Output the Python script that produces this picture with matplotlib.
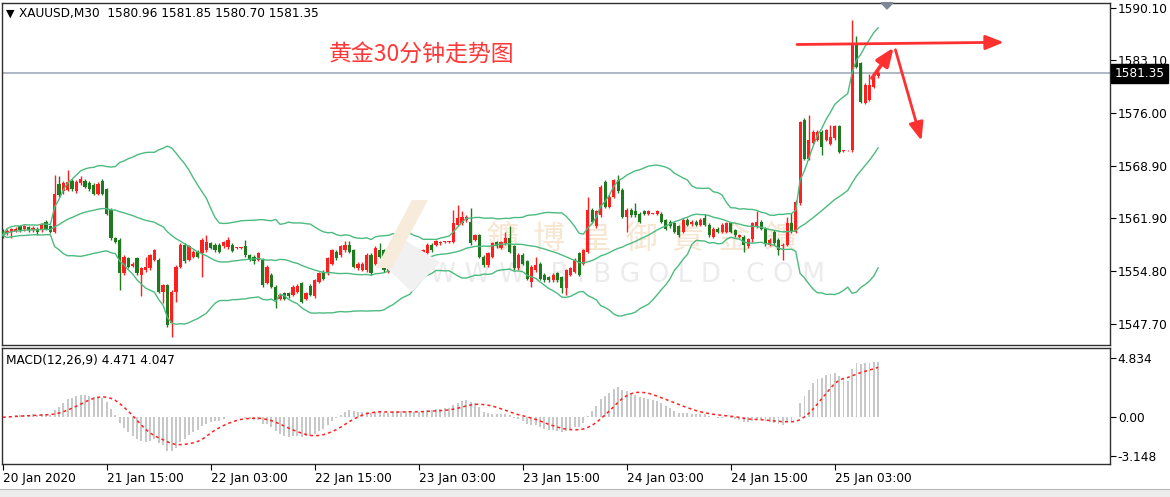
import numpy as np
import pandas as pd
import matplotlib.pyplot as plt
from matplotlib.patches import Polygon, Rectangle
import matplotlib.transforms as mtransforms

plt.rcParams['font.family'] = ['DejaVu Sans']

# XAUUSD M30 candles (open / high / low / close), oldest first
opens = [
    1560.2, 1559.9, 1560.0, 1560.2, 1560.8, 1560.4, 1560.7, 1560.3, 1560.5, 1560.3,
    1561.4, 1560.8, 1560.1, 1566.5, 1565.5, 1565.7, 1566.9, 1565.5, 1566.6, 1566.9,
    1566.6, 1566.4, 1565.2, 1566.9, 1565.8, 1563.0, 1559.2, 1559.0, 1554.5, 1556.5,
    1555.5, 1556.5, 1554.3, 1554.9, 1555.2, 1556.3, 1556.3, 1552.0, 1552.9, 1547.8,
    1552.0, 1555.4, 1558.3, 1556.3, 1556.7, 1557.4, 1557.2, 1557.6, 1558.5, 1558.3,
    1558.3, 1558.1, 1558.0, 1558.3, 1557.9, 1557.9, 1558.1, 1556.9, 1556.7, 1556.3,
    1556.3, 1553.2, 1554.3, 1552.7, 1551.1, 1551.8, 1551.8, 1551.6, 1552.0, 1553.2,
    1551.1, 1552.8, 1551.4, 1553.4, 1554.7, 1554.5, 1555.8, 1557.4, 1556.9, 1557.6,
    1558.3, 1557.6, 1555.2, 1555.0, 1554.9, 1557.0, 1555.8, 1557.6, 1557.6, 1554.7,
    1555.8, 1557.2, 1555.6, 1557.6, 1557.4, 1556.5, 1556.1, 1557.0, 1557.2, 1558.3,
    1558.3, 1558.5, 1558.7, 1558.7, 1558.7, 1561.0, 1561.2, 1561.6, 1561.4, 1559.0,
    1559.6, 1556.7, 1555.6, 1556.7, 1558.7, 1557.9, 1558.5, 1559.2, 1558.1, 1555.2,
    1557.0, 1556.1, 1553.4, 1554.9, 1555.8, 1554.3, 1554.0, 1553.6, 1554.5, 1554.0,
    1552.5, 1554.3, 1554.7, 1557.2, 1555.8, 1557.4, 1563.0, 1560.8, 1562.3, 1566.8,
    1563.4, 1564.8, 1567.0, 1565.7, 1562.1, 1563.0, 1562.8, 1562.5, 1562.8, 1562.5,
    1562.5, 1562.5, 1562.5, 1561.6, 1561.4, 1561.2, 1560.8, 1560.1, 1561.7, 1561.1,
    1561.4, 1561.0, 1561.9, 1561.0, 1559.4, 1560.5, 1560.1, 1560.1, 1561.2, 1560.3,
    1559.4, 1559.4, 1558.1, 1559.1, 1560.8, 1561.4, 1560.5, 1558.3, 1560.1, 1559.0,
    1558.1, 1558.3, 1561.2, 1560.1, 1563.9, 1575.1, 1569.9, 1572.0, 1572.4, 1573.5,
    1572.4, 1571.9, 1572.6, 1574.2, 1570.9, 1571.0, 1571.0, 1585.4, 1582.7, 1577.4,
    1577.8, 1579.5, 1580.96]
highs = [
    1560.4, 1560.4, 1560.6, 1560.7, 1561.0, 1561.0, 1560.9, 1560.9, 1560.7, 1561.2,
    1561.7, 1561.0, 1567.7, 1567.5, 1566.9, 1568.4, 1567.2, 1567.0, 1567.6, 1567.2,
    1566.9, 1566.6, 1566.8, 1567.1, 1566.0, 1563.2, 1559.4, 1559.2, 1557.0, 1556.7,
    1556.0, 1556.7, 1555.4, 1556.7, 1557.1, 1557.8, 1556.5, 1553.1, 1553.1, 1552.2,
    1555.6, 1558.5, 1558.5, 1558.3, 1557.6, 1557.6, 1559.2, 1559.6, 1558.7, 1558.5,
    1558.5, 1558.9, 1559.4, 1558.5, 1558.0, 1558.0, 1559.0, 1557.1, 1556.9, 1557.4,
    1556.5, 1555.6, 1554.5, 1552.9, 1551.8, 1552.0, 1552.0, 1552.9, 1553.0, 1553.4,
    1552.0, 1553.0, 1553.8, 1554.7, 1554.9, 1556.7, 1557.8, 1557.6, 1558.3, 1558.8,
    1558.8, 1557.8, 1556.0, 1556.0, 1557.2, 1557.2, 1558.1, 1558.5, 1557.8, 1556.9,
    1558.1, 1557.4, 1557.6, 1557.8, 1557.6, 1557.2, 1557.6, 1557.8, 1558.5, 1558.5,
    1559.0, 1558.9, 1558.8, 1558.8, 1563.0, 1563.7, 1562.8, 1562.3, 1563.2, 1559.8,
    1559.8, 1556.9, 1557.4, 1558.7, 1558.9, 1558.9, 1560.1, 1560.8, 1558.3, 1557.2,
    1557.2, 1556.3, 1555.6, 1556.7, 1556.0, 1554.5, 1554.2, 1554.5, 1554.7, 1554.2,
    1555.1, 1555.4, 1556.5, 1557.4, 1557.8, 1564.8, 1563.2, 1563.0, 1566.3, 1567.0,
    1565.0, 1567.2, 1567.7, 1565.9, 1563.2, 1563.2, 1563.9, 1562.7, 1563.0, 1563.0,
    1562.6, 1563.0, 1562.7, 1561.8, 1561.6, 1561.4, 1561.0, 1561.9, 1561.9, 1561.6,
    1561.6, 1561.9, 1562.5, 1561.2, 1560.7, 1560.7, 1561.2, 1561.4, 1561.4, 1560.5,
    1559.8, 1559.6, 1559.3, 1561.4, 1562.8, 1561.6, 1560.7, 1559.2, 1560.3, 1559.2,
    1558.5, 1562.1, 1562.6, 1564.3, 1575.0, 1575.3, 1575.7, 1573.7, 1573.7, 1573.7,
    1573.9, 1574.4, 1574.4, 1574.4, 1571.0, 1571.1, 1588.5, 1586.3, 1582.9, 1580.0,
    1581.3, 1581.1, 1581.85]
lows = [
    1559.3, 1559.7, 1559.3, 1560.0, 1560.1, 1560.2, 1560.1, 1560.1, 1559.6, 1560.1,
    1560.3, 1559.9, 1559.9, 1564.8, 1565.2, 1565.5, 1565.6, 1565.3, 1566.4, 1565.9,
    1565.6, 1565.0, 1565.0, 1565.0, 1562.3, 1559.0, 1558.5, 1552.3, 1554.3, 1555.2,
    1555.3, 1554.3, 1551.4, 1554.7, 1555.0, 1556.1, 1551.8, 1550.5, 1547.3, 1546.0,
    1550.7, 1555.2, 1555.9, 1556.1, 1556.5, 1556.5, 1554.0, 1557.4, 1557.7, 1557.4,
    1557.2, 1557.9, 1557.8, 1557.3, 1557.8, 1557.8, 1556.7, 1556.1, 1555.7, 1556.1,
    1552.7, 1553.0, 1552.5, 1549.8, 1550.9, 1550.9, 1551.2, 1551.4, 1551.8, 1550.5,
    1550.9, 1551.4, 1551.2, 1553.2, 1553.6, 1554.3, 1555.6, 1556.3, 1556.7, 1557.4,
    1557.2, 1555.2, 1555.0, 1554.8, 1554.7, 1554.3, 1555.6, 1556.5, 1554.7, 1554.5,
    1555.6, 1556.5, 1555.4, 1556.5, 1556.3, 1556.3, 1555.9, 1556.8, 1557.0, 1557.4,
    1558.1, 1558.3, 1558.6, 1558.6, 1558.5, 1560.8, 1561.0, 1561.4, 1558.3, 1558.8,
    1556.5, 1555.4, 1555.4, 1556.5, 1557.9, 1557.7, 1558.3, 1557.2, 1555.0, 1555.0,
    1555.6, 1553.6, 1552.7, 1554.7, 1553.6, 1553.4, 1553.4, 1553.4, 1553.4, 1551.8,
    1551.6, 1554.1, 1554.5, 1554.1, 1555.6, 1557.2, 1561.2, 1560.6, 1562.1, 1563.2,
    1563.2, 1564.6, 1565.3, 1561.9, 1560.1, 1562.1, 1562.1, 1561.2, 1562.3, 1562.3,
    1562.4, 1562.3, 1561.2, 1560.3, 1560.6, 1559.9, 1559.4, 1559.9, 1560.8, 1560.9,
    1560.8, 1560.8, 1560.8, 1559.4, 1559.2, 1559.9, 1559.9, 1559.9, 1559.9, 1559.4,
    1559.2, 1557.3, 1557.9, 1558.7, 1560.6, 1560.3, 1558.2, 1558.1, 1558.3, 1557.0,
    1556.3, 1558.1, 1559.9, 1559.9, 1563.7, 1569.7, 1569.7, 1571.8, 1572.2, 1570.4,
    1572.2, 1571.7, 1572.4, 1570.6, 1570.8, 1570.9, 1570.8, 1582.0, 1577.3, 1577.2,
    1577.6, 1579.3, 1580.70]
closes = [
    1559.6, 1560.2, 1560.4, 1560.5, 1560.3, 1560.8, 1560.3, 1560.6, 1560.1, 1561.0,
    1560.5, 1560.1, 1565.2, 1565.0, 1566.6, 1566.8, 1565.8, 1566.8, 1567.2, 1566.1,
    1565.8, 1565.2, 1566.5, 1565.2, 1562.5, 1559.2, 1558.7, 1554.5, 1556.7, 1555.4,
    1555.8, 1554.5, 1555.2, 1555.4, 1556.9, 1557.6, 1552.0, 1552.9, 1547.6, 1552.0,
    1555.4, 1558.3, 1556.1, 1558.1, 1557.4, 1556.7, 1559.0, 1558.7, 1557.9, 1557.6,
    1557.4, 1558.7, 1559.0, 1557.5, 1557.9, 1557.9, 1556.9, 1556.3, 1556.1, 1557.2,
    1552.9, 1555.4, 1552.7, 1550.9, 1551.6, 1551.1, 1551.4, 1552.7, 1552.8, 1550.7,
    1551.8, 1551.6, 1553.6, 1554.5, 1553.8, 1556.5, 1557.6, 1556.5, 1558.1, 1558.3,
    1557.4, 1555.4, 1555.8, 1555.8, 1557.0, 1554.5, 1557.9, 1556.7, 1554.9, 1556.7,
    1557.9, 1556.7, 1557.4, 1556.7, 1556.5, 1557.0, 1557.4, 1557.6, 1558.3, 1557.6,
    1558.8, 1558.7, 1558.7, 1558.7, 1561.2, 1561.9, 1562.1, 1562.1, 1558.5, 1559.6,
    1556.7, 1555.6, 1557.2, 1558.5, 1558.1, 1558.7, 1559.2, 1557.4, 1555.2, 1557.0,
    1555.8, 1553.8, 1555.4, 1555.6, 1553.8, 1553.6, 1553.6, 1554.3, 1553.6, 1552.5,
    1554.9, 1555.2, 1556.3, 1554.3, 1557.6, 1563.0, 1561.4, 1562.8, 1566.1, 1563.4,
    1564.8, 1567.0, 1565.5, 1562.1, 1563.0, 1562.3, 1562.3, 1561.4, 1562.5, 1562.8,
    1562.5, 1562.8, 1561.4, 1560.5, 1560.8, 1560.1, 1559.6, 1561.7, 1561.0, 1561.4,
    1561.0, 1561.7, 1561.0, 1559.6, 1560.5, 1560.1, 1561.0, 1561.2, 1560.1, 1559.6,
    1559.6, 1558.3, 1559.1, 1561.2, 1561.4, 1560.5, 1558.4, 1559.0, 1558.5, 1557.6,
    1558.3, 1561.2, 1560.1, 1564.1, 1574.8, 1569.9, 1572.4, 1573.5, 1573.5, 1571.5,
    1573.7, 1572.8, 1574.2, 1570.8, 1570.9, 1571.0, 1585.4, 1582.2, 1577.5, 1579.8,
    1579.8, 1580.9, 1581.35]

price_ticks = [1590.10, 1583.10, 1576.00, 1568.90, 1561.90, 1554.80, 1547.70]
macd_ticks = [4.834, 0.00, -3.148]
macd_tick_labels = ['4.834', '0.00', '-3.148']
date_bars = [0, 24, 48, 72, 96, 120, 144, 168, 192]
date_labels = ['20 Jan 2020', '21 Jan 15:00', '22 Jan 03:00', '22 Jan 15:00',
               '23 Jan 03:00', '23 Jan 15:00', '24 Jan 03:00', '24 Jan 15:00',
               '25 Jan 03:00']
last_price = 1581.35
header = 'XAUUSD,M30  1580.96 1581.85 1580.70 1581.35'
macd_header = 'MACD(12,26,9) 4.471 4.047'
title_cn = '黄金30分钟走势图'

# hand-drawn arrows on the chart: (bar, price) start -> end
arrow_flat = [(183.3, 1585.2), (231.0, 1585.5)]
arrow_up = [(200.6, 1580.7), (205.6, 1584.8)]
arrow_down = [(206.0, 1584.5), (212.0, 1572.3)]

UP = '#ff1f1f'
DOWN = '#1f7a1f'
BAND = '#4cbb7f'

o = np.array(opens)
h = np.array(highs)
l = np.array(lows)
c = np.array(closes)
x = np.arange(len(c))

# Bollinger(26, 2)
s = pd.Series(c)
mid = s.rolling(26, min_periods=1).mean()
sd = s.rolling(26, min_periods=1).std(ddof=0)
upper = mid + 2 * sd
lower = mid - 2 * sd

# MACD(12,26,9), signal is an SMA like in MT4
ema12 = s.ewm(span=12, adjust=False).mean()
ema26 = s.ewm(span=26, adjust=False).mean()
macd = ema12 - ema26
signal = macd.rolling(9, min_periods=1).mean()

W, H = 1170, 497
fig = plt.figure(figsize=(W / 100, H / 100), dpi=100)


def box(x0, y0, x1, y1):
    return [x0 / W, 1 - y1 / H, (x1 - x0) / W, (y1 - y0) / H]


ax = fig.add_axes(box(2, 2.7, 1109.5, 345))
axm = fig.add_axes(box(2, 348, 1109.5, 464), sharex=ax)

# faint watermark
ax.text(0.578, 0.31, '鑛  博  皇  御  貴  金  鑛', transform=ax.transAxes, ha='center',
        va='center', fontsize=23, color='#f6e6d2', family=['Noto Sans CJK TC'], zorder=0)
ax.text(0.565, 0.205, 'W W W . B I B G O L D . C O M', transform=ax.transAxes,
        ha='center', va='center', fontsize=19, color='#ececec', zorder=0)
fig.add_artist(Polygon([[412 / W, 1 - 200 / H], [428 / W, 1 - 200 / H],
                        [392 / W, 1 - 268 / H], [376 / W, 1 - 268 / H]],
                       closed=True, transform=fig.transFigure,
                       facecolor='#f7ecdc', edgecolor='none', zorder=0.5))
fig.add_artist(Polygon([[380 / W, 1 - 262 / H], [405 / W, 1 - 240 / H],
                        [440 / W, 1 - 262 / H], [412 / W, 1 - 292 / H]],
                       closed=True, transform=fig.transFigure,
                       facecolor='#f1f1f1', edgecolor='none', zorder=0.4))

ax.patch.set_alpha(0)

# candles
up = c >= o
col = np.where(up, UP, DOWN)
body_lo = np.minimum(o, c)
body_h = np.maximum(np.abs(c - o), 0.1)
ax.vlines(x, l, h, colors=col, lw=1.0, zorder=2)
ax.bar(x, body_h, bottom=body_lo, width=0.72, color=col, linewidth=0, zorder=3)

# bollinger bands
for band in (upper, mid, lower):
    ax.plot(x, band, color=BAND, lw=1.0, zorder=4)

ax.axhline(last_price, color='#a7b1bd', lw=1.3, zorder=1)

# drawn arrows
for (p0, p1), lw in ((arrow_flat, 2.0), (arrow_up, 2.6), (arrow_down, 2.0)):
    ax.annotate('', xy=p1, xytext=p0, annotation_clip=False,
                arrowprops=dict(arrowstyle='-|>,head_length=0.55,head_width=0.22',
                                mutation_scale=20, color='#ff3030', lw=lw,
                                shrinkA=0, shrinkB=0), zorder=6)

ax.text(420 / 1107.5, 1 - (55 - 2.7) / 342.3, title_cn, transform=ax.transAxes,
        ha='center', va='center', fontsize=16.5, color='#ff3838',
        family=['Noto Sans CJK SC'], zorder=6)

ax.set_xlim(-0.16, 255.4)
ax.set_ylim(1544.88, 1590.81)
ax.yaxis.tick_right()
ax.set_yticks(price_ticks)
ax.set_yticklabels(['%.2f' % t for t in price_ticks])
ax.tick_params(axis='y', direction='out', length=4, width=0.8, labelsize=8.7, pad=2)
ax.tick_params(axis='x', bottom=False, labelbottom=False)

trans = mtransforms.blended_transform_factory(ax.transAxes, ax.transData)
ax.text(1.0045, last_price, '1581.35', transform=trans, ha='left', va='center',
        fontsize=8.7, color='white', zorder=10, clip_on=False,
        bbox=dict(boxstyle='square,pad=0.25', facecolor='black', edgecolor='black'))

# MACD panel
axm.bar(x, macd, width=0.42, color='#c8c8c8', linewidth=0, zorder=2)
axm.plot(x, signal, color='#ff2020', lw=1.1, ls=(0, (2, 2)), zorder=3)
axm.set_ylim(-3.83, 5.68)
axm.yaxis.tick_right()
axm.set_yticks(macd_ticks)
axm.set_yticklabels(macd_tick_labels)
axm.tick_params(axis='y', direction='out', length=4, width=0.8, labelsize=8.7, pad=2)
axm.set_xticks(date_bars)
axm.set_xticklabels(date_labels, ha='left')
axm.tick_params(axis='x', direction='out', length=4, width=0.8, labelsize=8.7, pad=2)

for a in (ax, axm):
    for sp in a.spines.values():
        sp.set_color('#303030')
        sp.set_linewidth(1.0)

fig.text(5.5 / W, 1 - 13.5 / H, '▼', fontsize=8, va='center', ha='left')
fig.text(19 / W, 1 - 13.5 / H, header, fontsize=8.7, va='center', ha='left')
fig.text(6 / W, 1 - 360.5 / H, macd_header, fontsize=8.7, va='center', ha='left')

# chart shift marker
fig.add_artist(Polygon([[881 / W, 1 - 2.7 / H], [893 / W, 1 - 2.7 / H],
                        [887 / W, 1 - 9 / H]], closed=True,
                       transform=fig.transFigure, color='#7d8896'))

# tab strip at the bottom
fig.add_artist(Rectangle((0, 0), 1, 8 / H, transform=fig.transFigure,
                         facecolor='#ececec', edgecolor='none'))
fig.add_artist(plt.Line2D([0, 1], [8 / H, 8 / H], transform=fig.transFigure,
                          color='#b8b8b8', lw=0.8))

fig.savefig('out.png', dpi=100, facecolor='white')
